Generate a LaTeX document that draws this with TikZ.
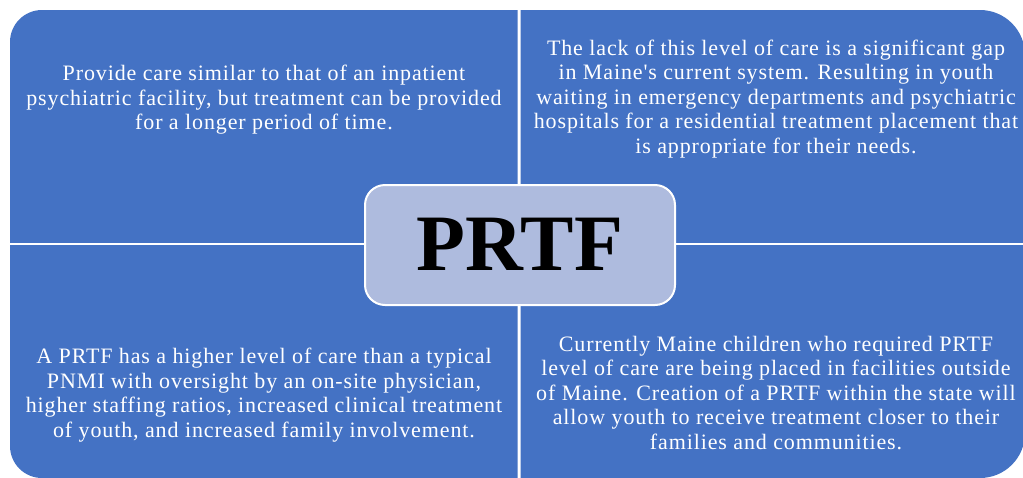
\documentclass[tikz,border=0pt]{standalone}
\usepackage{fontspec}
\setmainfont{Liberation Serif}
\newfontfamily\qfont[LetterSpace=4]{Liberation Serif}
\definecolor{qblue}{RGB}{68,114,196}
\definecolor{cfill}{RGB}{174,187,222}
\begin{document}
\begin{tikzpicture}[x=1pt,y=-1pt,
  qtext/.style={text=white,align=center,inner sep=0pt,anchor=base,
    font=\qfont\fontsize{22}{24.5}\selectfont},
  centerbox/.style={draw=white,line width=2pt,fill=cfill,rounded corners=20pt,
    minimum width=310pt,minimum height=120pt,inner sep=0pt},
  bigtext/.style={font=\fontsize{80}{90}\selectfont\bfseries,inner sep=0pt,anchor=base}]
\useasboundingbox[fill=white] (0,0) rectangle (1023,477);
% quadrants
\begin{scope}
  \clip (0,0) rectangle (517.5,242.5);
  \fill[qblue,rounded corners=32pt] (10,10) rectangle (1025,478);
\end{scope}
\begin{scope}
  \clip (520.5,0) rectangle (1023,242.5);
  \fill[qblue,rounded corners=45pt] (10,10) rectangle (1025,478);
\end{scope}
\begin{scope}
  \clip (0,245.5) rectangle (517.5,477);
  \fill[qblue,rounded corners=32pt] (10,10) rectangle (1025,478);
\end{scope}
\begin{scope}
  \clip (520.5,245.5) rectangle (1023,477);
  \fill[qblue,rounded corners=45pt] (10,10) rectangle (1025,478);
\end{scope}
% texts (anchored at the baseline of the last line)
\node[qtext] (tl) at (264,129.5) {Provide care similar to that of an inpatient\\psychiatric facility, but treatment can be provided\\for a longer period of time.};
\node[qtext] (tr) at (776,153) {The lack of this level of care is a significant gap\\in Maine's current system. Resulting in youth\\waiting in emergency departments and psychiatric\\hospitals for a residential treatment placement that\\is appropriate for their needs.};
\node[qtext] (bl) at (264,437) {A PRTF has a higher level of care than a typical\\PNMI with oversight by an on-site physician,\\higher staffing ratios, increased clinical treatment\\of youth, and increased family involvement.};
\node[qtext] (br) at (776,449) {Currently Maine children who required PRTF\\level of care are being placed in facilities outside\\of Maine. Creation of a PRTF within the state will\\allow youth to receive treatment closer to their\\families and communities.};
% center
\node[centerbox] (c) at (520,245) {};
\node[bigtext] (ct) at (520,270) {PRTF};
\end{tikzpicture}
\end{document}
